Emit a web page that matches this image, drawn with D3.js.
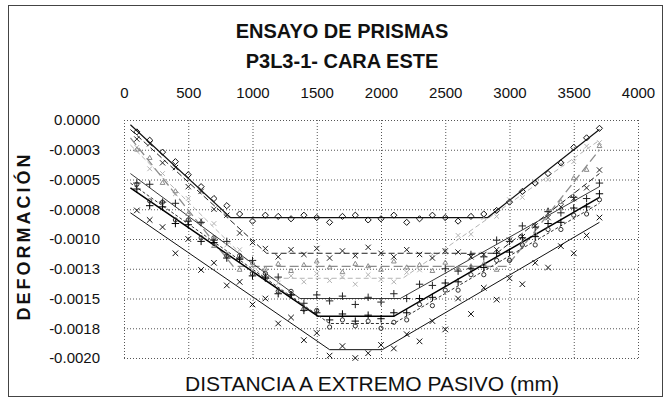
<!DOCTYPE html>
<html>
<head>
<meta charset="utf-8">
<script src="https://cdn.jsdelivr.net/npm/d3@7"></script>
<style>
  body { margin: 0; background: #fff; }
  svg { font-family: "Liberation Sans", Arial, sans-serif; }
</style>
</head>
<body>
<svg id="chart" width="670" height="399"></svg>
<script>
// axis ticks
var xTicks = [0, 500, 1000, 1500, 2000, 2500, 3000, 3500, 4000];
var xTickLabels = ["0", "500", "1000", "1500", "2000", "2500", "3000", "3500", "4000"];
var yTicks = [0, -0.00025, -0.0005, -0.00075, -0.001, -0.00125, -0.0015, -0.00175, -0.002];
var yTickLabels = ["0.0000", "-0.0003", "-0.0005", "-0.0008", "-0.0010", "-0.0013", "-0.0015", "-0.0018", "-0.0020"];

// measuring stations (mm)
var stations = [100, 200, 300, 400, 500, 600, 700, 800, 900, 1000, 1100, 1200, 1300, 1400, 1500, 1600, 1700, 1800, 1900,
  2000, 2100, 2200, 2300, 2400, 2500, 2600, 2700, 2800, 2900, 3000, 3100, 3200, 3300, 3400, 3500, 3600, 3700];

// fitted trilinear lines [x, deformation]
var lineA = [[50, -0.4e-4], [830, -8.2e-4], [2830, -8.2e-4], [3700, -0.8e-4]];
var lineB = [[50, -0.8e-4], [1110, -11.2e-4], [2900, -11.2e-4], [3700, -4.5e-4]];
var lineC = [[50, -1.5e-4], [850, -12.3e-4], [2980, -12.3e-4], [3700, -2.5e-4]];
var lineD = [[50, -2.1e-4], [1100, -13.3e-4], [2170, -13.3e-4], [3700, -1.7e-4]];
var lineE = [[50, -4.5e-4], [1370, -15.0e-4], [2150, -15.0e-4], [3700, -5.6e-4]];
var lineF = [[50, -5.7e-4], [1510, -16.5e-4], [2100, -16.5e-4], [3700, -6.5e-4]];
var lineG = [[50, -5.3e-4], [1600, -17.1e-4], [2100, -17.1e-4], [3700, -7.0e-4]];
var lineH = [[50, -7.8e-4], [1600, -19.3e-4], [2010, -19.3e-4], [3700, -8.6e-4]];

// measured deformation at each station
var readA = [-1.0e-4, -1.7e-4, -2.7e-4, -3.5e-4, -4.6e-4, -5.6e-4, -6.6e-4, -7.2e-4, -7.9e-4, -8.5e-4, -8.0e-4, -8.1e-4, -8.3e-4,
  -8.0e-4, -8.2e-4, -8.6e-4, -8.1e-4, -8.0e-4, -8.4e-4, -8.3e-4, -8.0e-4, -8.6e-4, -8.3e-4, -8.0e-4, -8.2e-4, -8.5e-4,
  -8.1e-4, -7.9e-4, -7.6e-4, -6.9e-4, -6.0e-4, -5.3e-4, -4.5e-4, -3.6e-4, -2.3e-4, -1.5e-4, -0.7e-4];
var readB = [-1.6e-4, -2.0e-4, -3.6e-4, -4.0e-4, -5.6e-4, -6.0e-4, -7.5e-4, -8.0e-4, -9.5e-4, -10.3e-4, -10.8e-4,
  -11.5e-4, -10.9e-4, -11.3e-4, -10.8e-4, -11.6e-4, -11.0e-4, -11.4e-4, -10.7e-4, -11.2e-4, -11.5e-4, -10.9e-4, -11.3e-4,
  -11.6e-4, -11.0e-4, -11.1e-4, -11.5e-4, -11.3e-4, -10.9e-4, -10.1e-4, -9.8e-4, -8.9e-4, -8.2e-4, -7.3e-4, -6.6e-4,
  -5.7e-4, -4.2e-4];
var readC = [-2.5e-4, -3.2e-4, -5.3e-4, -6.0e-4, -7.9e-4, -8.6e-4, -10.6e-4, -11.3e-4, -12.6e-4, -12.0e-4, -12.5e-4,
  -12.1e-4, -12.7e-4, -12.2e-4, -11.9e-4, -12.4e-4, -12.8e-4, -12.1e-4, -12.3e-4, -12.6e-4, -11.9e-4, -12.4e-4, -12.2e-4,
  -12.7e-4, -12.0e-4, -12.5e-4, -12.3e-4, -12.1e-4, -12.6e-4, -11.7e-4, -10.4e-4, -9.6e-4, -7.6e-4, -6.9e-4, -4.9e-4,
  -4.2e-4, -2.2e-4];
var readD = [-2.3e-4, -4.1e-4, -4.5e-4, -6.2e-4, -6.6e-4, -8.4e-4, -8.7e-4, -10.5e-4, -10.9e-4, -12.6e-4, -13.0e-4,
  -13.7e-4, -13.1e-4, -13.6e-4, -12.9e-4, -13.5e-4, -13.2e-4, -13.8e-4, -13.0e-4, -13.4e-4, -13.6e-4, -12.8e-4, -12.6e-4,
  -11.3e-4, -11.1e-4, -9.7e-4, -9.6e-4, -8.2e-4, -8.1e-4, -6.7e-4, -6.5e-4, -5.2e-4, -5.0e-4, -3.7e-4, -3.5e-4, -2.2e-4,
  -1.9e-4];
var readE = [-5.3e-4, -5.4e-4, -6.9e-4, -7.0e-4, -8.5e-4, -8.6e-4, -10.1e-4, -10.2e-4, -11.6e-4, -11.8e-4, -13.3e-4,
  -13.2e-4, -14.7e-4, -15.4e-4, -14.7e-4, -15.2e-4, -14.8e-4, -15.5e-4, -14.9e-4, -15.3e-4, -14.6e-4, -15.0e-4, -13.8e-4,
  -13.9e-4, -12.5e-4, -12.7e-4, -11.3e-4, -11.5e-4, -10.1e-4, -10.2e-4, -8.9e-4, -9.0e-4, -7.7e-4, -7.8e-4, -6.5e-4,
  -6.6e-4, -5.3e-4];
var readF = [-5.8e-4, -7.2e-4, -7.3e-4, -8.7e-4, -8.8e-4, -10.2e-4, -10.3e-4, -11.6e-4, -11.7e-4, -13.1e-4, -13.2e-4,
  -14.6e-4, -14.7e-4, -16.0e-4, -16.2e-4, -16.8e-4, -16.3e-4, -16.9e-4, -16.4e-4, -16.7e-4, -16.2e-4, -16.2e-4, -15.0e-4,
  -14.9e-4, -13.7e-4, -13.6e-4, -12.5e-4, -12.4e-4, -11.2e-4, -11.1e-4, -9.9e-4, -9.8e-4, -8.7e-4, -8.6e-4, -7.4e-4,
  -7.3e-4, -6.2e-4];
var readG = [-5.4e-4, -6.8e-4, -6.9e-4, -8.4e-4, -8.4e-4, -9.9e-4, -9.9e-4, -11.4e-4, -11.4e-4, -12.9e-4, -12.9e-4,
  -14.4e-4, -14.4e-4, -15.9e-4, -16.0e-4, -17.4e-4, -16.8e-4, -17.3e-4, -16.9e-4, -17.5e-4, -17.0e-4, -16.8e-4, -15.5e-4,
  -15.6e-4, -14.3e-4, -14.3e-4, -13.0e-4, -13.0e-4, -11.8e-4, -11.8e-4, -10.5e-4, -10.5e-4, -9.2e-4, -9.2e-4, -8.0e-4,
  -7.9e-4, -6.7e-4];
var readH = [-7.6e-4, -8.4e-4, -9.0e-4, -11.2e-4, -10.0e-4, -12.6e-4, -12.0e-4, -13.9e-4, -13.6e-4, -15.5e-4, -15.0e-4,
  -17.1e-4, -16.6e-4, -18.5e-4, -17.9e-4, -19.8e-4, -19.0e-4, -20.0e-4, -19.6e-4, -18.9e-4, -19.2e-4, -18.0e-4, -18.6e-4,
  -16.9e-4, -17.6e-4, -15.0e-4, -16.3e-4, -14.1e-4, -15.1e-4, -13.3e-4, -13.8e-4, -12.0e-4, -12.4e-4, -10.6e-4, -11.2e-4,
  -9.7e-4, -8.2e-4];

var series = [
  { line: lineD, read: readD, color: "#b4b4b4", width: 1, dash: "5,3", symbol: d3.symbolX, size: 16 },
  { line: lineC, read: readC, color: "#8c8c8c", width: 1.3, dash: "9,4", symbol: d3.symbolTriangle2, size: 16 },
  { line: lineA, read: readA, color: "#111", width: 1.2, dash: null, symbol: d3.symbolDiamond2, size: 24 },
  { line: lineB, read: readB, color: "#222", width: 1, dash: "6,3", symbol: d3.symbolX, size: 20 },
  { line: lineE, read: readE, color: "#222", width: 0.9, dash: null, symbol: d3.symbolPlus, size: 20 },
  { line: lineF, read: readF, color: "#000", width: 1.5, dash: null, symbol: d3.symbolPlus, size: 20 },
  { line: lineG, read: readG, color: "#333", width: 1, dash: "3,2", symbol: d3.symbolCircle, size: 14 },
  { line: lineH, read: readH, color: "#111", width: 1, dash: null, symbol: d3.symbolX, size: 22 }
];

var svg = d3.select("#chart");
var pLeft = 124, pRight = 638, pTop = 120, pBottom = 358;

var x = d3.scaleLinear().domain([0, 4000]).range([pLeft, pRight]);
var y = d3.scaleLinear().domain([0, -0.002]).range([pTop, pBottom]);

// outer frame
svg.append("rect")
  .attr("x", 8.5).attr("y", 5.5).attr("width", 654).attr("height", 391)
  .attr("fill", "none").attr("stroke", "#444").attr("stroke-width", 1);

// titles
svg.append("text").attr("x", 342).attr("y", 38).attr("text-anchor", "middle")
  .attr("font-size", 20).attr("font-weight", "bold").attr("fill", "#111")
  .text("ENSAYO DE PRISMAS");
svg.append("text").attr("x", 342).attr("y", 68).attr("text-anchor", "middle")
  .attr("font-size", 20).attr("font-weight", "bold").attr("fill", "#111")
  .text("P3L3-1- CARA ESTE");

// grid
svg.append("g")
  .attr("transform", "translate(0," + pBottom + ")")
  .call(d3.axisBottom(x).tickValues(xTicks).tickSize(-(pBottom - pTop)).tickFormat(""))
  .call(function(g) { g.select(".domain").remove(); })
  .selectAll("line").attr("stroke", "#555").attr("stroke-dasharray", "1,2");
svg.append("g")
  .attr("transform", "translate(" + pLeft + ",0)")
  .call(d3.axisLeft(y).tickValues(yTicks).tickSize(-(pRight - pLeft)).tickFormat(""))
  .call(function(g) { g.select(".domain").remove(); })
  .selectAll("line").attr("stroke", "#555").attr("stroke-dasharray", "1,2");

// tick labels
var xAxis = svg.append("g")
  .attr("transform", "translate(0," + pTop + ")")
  .call(d3.axisTop(x).tickValues(xTicks).tickSize(0).tickPadding(22)
    .tickFormat(function(d, i) { return xTickLabels[i]; }));
xAxis.select(".domain").remove();
xAxis.selectAll("text").attr("font-size", 15).attr("fill", "#111")
  .attr("font-family", "Liberation Sans, Arial, sans-serif");

var yAxis = svg.append("g")
  .attr("transform", "translate(" + pLeft + ",0)")
  .call(d3.axisLeft(y).tickValues(yTicks).tickSize(0).tickPadding(24)
    .tickFormat(function(d, i) { return yTickLabels[i]; }));
yAxis.select(".domain").remove();
yAxis.selectAll("text").attr("font-size", 15).attr("fill", "#111")
  .attr("font-family", "Liberation Sans, Arial, sans-serif");

// axis titles
svg.append("text").attr("x", 372).attr("y", 391).attr("text-anchor", "middle")
  .attr("font-size", 21).attr("fill", "#111")
  .text("DISTANCIA A EXTREMO PASIVO (mm)");
svg.append("text")
  .attr("transform", "translate(30,236) rotate(-90)")
  .attr("text-anchor", "middle").attr("font-size", 18).attr("font-weight", "bold")
  .attr("letter-spacing", 3).attr("fill", "#111")
  .text("DEFORMACIÓN");

// lines
var line = d3.line().x(function(d) { return x(d[0]); }).y(function(d) { return y(d[1]); });

var plot = svg.append("g");
series.forEach(function(s) {
  plot.append("path")
    .attr("d", line(s.line))
    .attr("fill", "none")
    .attr("stroke", s.color)
    .attr("stroke-width", s.width)
    .attr("stroke-dasharray", s.dash);
});

// markers
series.forEach(function(s) {
  plot.append("g").selectAll("path")
    .data(s.read)
    .enter().append("path")
      .attr("transform", function(d, i) { return "translate(" + x(stations[i]) + "," + y(d) + ")"; })
      .attr("d", d3.symbol().type(s.symbol).size(s.size))
      .attr("fill", "none")
      .attr("stroke", s.color)
      .attr("stroke-width", 1);
});
</script>
</body>
</html>
